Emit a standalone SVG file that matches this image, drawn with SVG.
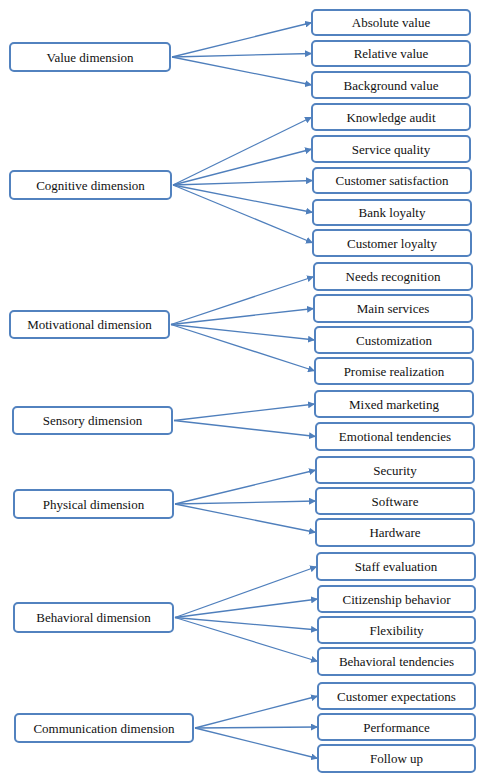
<svg xmlns="http://www.w3.org/2000/svg" width="477" height="774" viewBox="0 0 477 774">
<style>
rect.b{fill:#fff;stroke:#5282bf;stroke-width:2}
text{font-family:"Liberation Serif","Times New Roman",serif;font-size:13px;fill:#111;text-anchor:middle;dominant-baseline:central}
#connectors line{stroke:#4f7fbc;stroke-width:1.3;marker-end:url(#ah)}
</style>
<defs>
<marker id="ah" viewBox="0 0 10 10" refX="10" refY="5" markerWidth="7" markerHeight="7" markerUnits="userSpaceOnUse" orient="auto">
<path d="M0,0 L10,5 L0,10 z" fill="#4f7fbc"/>
</marker>
</defs>
<rect width="477" height="774" fill="#fff"/>
<g id="connectors">
<line x1="172" y1="57" x2="312" y2="22.5"/>
<line x1="172" y1="57" x2="312" y2="53.5"/>
<line x1="172" y1="57" x2="312" y2="85"/>
<line x1="173" y1="185" x2="312" y2="117"/>
<line x1="173" y1="185" x2="312" y2="149"/>
<line x1="173" y1="185" x2="313" y2="180.5"/>
<line x1="173" y1="185" x2="313" y2="212.5"/>
<line x1="173" y1="185" x2="313" y2="243"/>
<line x1="171" y1="324.5" x2="314" y2="276.5"/>
<line x1="171" y1="324.5" x2="314" y2="308.5"/>
<line x1="171" y1="324.5" x2="315" y2="340"/>
<line x1="171" y1="324.5" x2="315" y2="371"/>
<line x1="174" y1="420.5" x2="315" y2="404"/>
<line x1="174" y1="420.5" x2="316" y2="436.5"/>
<line x1="175" y1="504" x2="316" y2="470"/>
<line x1="175" y1="504" x2="316" y2="501"/>
<line x1="175" y1="504" x2="316" y2="532.5"/>
<line x1="175" y1="617.5" x2="317" y2="566.5"/>
<line x1="175" y1="617.5" x2="318" y2="599"/>
<line x1="175" y1="617.5" x2="318" y2="630"/>
<line x1="175" y1="617.5" x2="318" y2="661.5"/>
<line x1="195" y1="728" x2="318" y2="696"/>
<line x1="195" y1="728" x2="318" y2="727"/>
<line x1="195" y1="728" x2="318" y2="758.5"/>
</g>
<g id="value-dimension"><rect class="b" x="10" y="43" width="160" height="28" rx="4"/><text x="90" y="57">Value dimension</text></g>
<g id="cognitive-dimension"><rect class="b" x="10" y="171" width="161" height="28" rx="4"/><text x="90.5" y="185">Cognitive dimension</text></g>
<g id="motivational-dimension"><rect class="b" x="10" y="311" width="159" height="27" rx="4"/><text x="89.5" y="324.5">Motivational dimension</text></g>
<g id="sensory-dimension"><rect class="b" x="13" y="407" width="159" height="27" rx="4"/><text x="92.5" y="420.5">Sensory dimension</text></g>
<g id="physical-dimension"><rect class="b" x="14" y="490" width="159" height="28" rx="4"/><text x="93.5" y="504">Physical dimension</text></g>
<g id="behavioral-dimension"><rect class="b" x="14" y="603" width="159" height="29" rx="4"/><text x="93.5" y="617.5">Behavioral dimension</text></g>
<g id="communication-dimension"><rect class="b" x="15" y="714" width="178" height="28" rx="4"/><text x="104" y="728">Communication dimension</text></g>
<g id="absolute-value"><rect class="b" x="312" y="10" width="158" height="25" rx="4"/><text x="391" y="22.5">Absolute value</text></g>
<g id="relative-value"><rect class="b" x="312" y="41" width="158" height="25" rx="4"/><text x="391" y="53.5">Relative value</text></g>
<g id="background-value"><rect class="b" x="312" y="72" width="158" height="26" rx="4"/><text x="391" y="85">Background value</text></g>
<g id="knowledge-audit"><rect class="b" x="312" y="104" width="158" height="26" rx="4"/><text x="391" y="117">Knowledge audit</text></g>
<g id="service-quality"><rect class="b" x="312" y="136" width="158" height="26" rx="4"/><text x="391" y="149">Service quality</text></g>
<g id="customer-satisfaction"><rect class="b" x="313" y="168" width="158" height="25" rx="4"/><text x="392" y="180.5">Customer satisfaction</text></g>
<g id="bank-loyalty"><rect class="b" x="313" y="200" width="158" height="25" rx="4"/><text x="392" y="212.5">Bank loyalty</text></g>
<g id="customer-loyalty"><rect class="b" x="313" y="230" width="158" height="26" rx="4"/><text x="392" y="243">Customer loyalty</text></g>
<g id="needs-recognition"><rect class="b" x="314" y="263" width="158" height="27" rx="4"/><text x="393" y="276.5">Needs recognition</text></g>
<g id="main-services"><rect class="b" x="314" y="295" width="158" height="27" rx="4"/><text x="393" y="308.5">Main services</text></g>
<g id="customization"><rect class="b" x="315" y="327" width="158" height="26" rx="4"/><text x="394" y="340">Customization</text></g>
<g id="promise-realization"><rect class="b" x="315" y="358" width="158" height="26" rx="4"/><text x="394" y="371">Promise realization</text></g>
<g id="mixed-marketing"><rect class="b" x="315" y="391" width="158" height="26" rx="4"/><text x="394" y="404">Mixed marketing</text></g>
<g id="emotional-tendencies"><rect class="b" x="316" y="423" width="158" height="27" rx="4"/><text x="395" y="436.5">Emotional tendencies</text></g>
<g id="security"><rect class="b" x="316" y="457" width="158" height="26" rx="4"/><text x="395" y="470">Security</text></g>
<g id="software"><rect class="b" x="316" y="488" width="158" height="26" rx="4"/><text x="395" y="501">Software</text></g>
<g id="hardware"><rect class="b" x="316" y="519" width="158" height="27" rx="4"/><text x="395" y="532.5">Hardware</text></g>
<g id="staff-evaluation"><rect class="b" x="317" y="553" width="158" height="27" rx="4"/><text x="396" y="566.5">Staff evaluation</text></g>
<g id="citizenship-behavior"><rect class="b" x="318" y="586" width="157" height="26" rx="4"/><text x="396.5" y="599">Citizenship behavior</text></g>
<g id="flexibility"><rect class="b" x="318" y="617" width="157" height="26" rx="4"/><text x="396.5" y="630">Flexibility</text></g>
<g id="behavioral-tendencies"><rect class="b" x="318" y="648" width="157" height="27" rx="4"/><text x="396.5" y="661.5">Behavioral tendencies</text></g>
<g id="customer-expectations"><rect class="b" x="318" y="683" width="157" height="26" rx="4"/><text x="396.5" y="696">Customer expectations</text></g>
<g id="performance"><rect class="b" x="318" y="714" width="157" height="26" rx="4"/><text x="396.5" y="727">Performance</text></g>
<g id="follow-up"><rect class="b" x="318" y="745" width="157" height="27" rx="4"/><text x="396.5" y="758.5">Follow up</text></g>
</svg>
